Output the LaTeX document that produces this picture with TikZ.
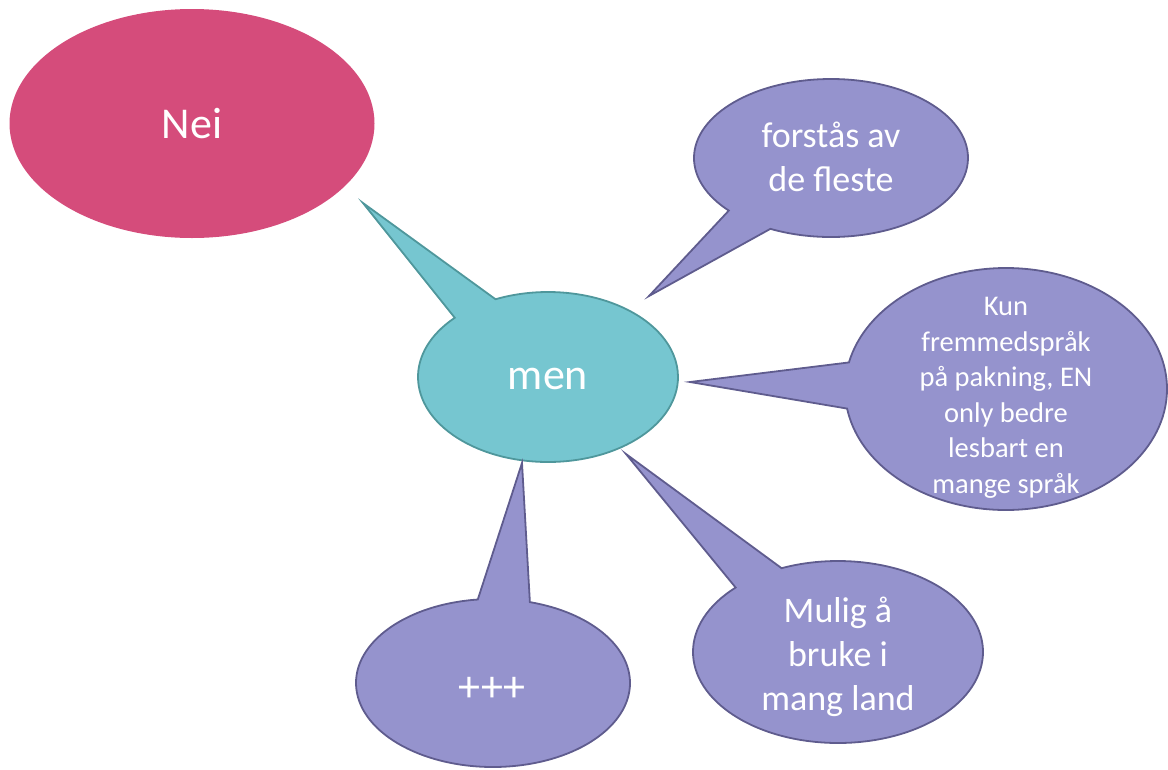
\documentclass[tikz,border=0pt]{standalone}
\usepackage{fontspec}
\setmainfont{Carlito}
\usetikzlibrary{shapes.geometric,shapes.callouts}
\definecolor{neipink}{HTML}{D54C7B}
\definecolor{tealfill}{HTML}{76C6D0}
\definecolor{tealline}{HTML}{4F979C}
\definecolor{purplefill}{HTML}{9593CD}
\definecolor{purpleline}{HTML}{5F5C8E}
\tikzset{
  bubble/.style={ellipse callout, draw=purpleline, fill=purplefill, line width=1.8pt,
    inner sep=0pt, callout pointer arc=22},
  tealbubble/.style={bubble, draw=tealline, fill=tealfill},
  bigtext/.style={text=white, font=\fontsize{44}{54}\selectfont, inner sep=0pt},
  midtext/.style={text=white, font=\fontsize{36}{44}\selectfont, align=center, inner sep=0pt},
  smalltext/.style={text=white, font=\fontsize{28.5}{35.5}\selectfont, align=center, inner sep=0pt}
}
\begin{document}
\begin{tikzpicture}[x=1pt,y=-1pt]
\useasboundingbox (0,0) rectangle (1168,769);
% tips of the callouts
\coordinate (tmen) at (363,203);
\coordinate (tfor) at (649,296);
\coordinate (tkun) at (690,382);
\coordinate (tmul) at (626,454);
\coordinate (tplus) at (522,463);
% shapes
\node[ellipse, fill=neipink, minimum width=365pt, minimum height=229pt, inner sep=0pt] (nei) at (192,123.5) {};
\node[tealbubble, minimum width=260pt, minimum height=170pt, callout absolute pointer={(tmen)}] (men) at (548,377) {};
\node[bubble, minimum width=274pt, minimum height=158pt, callout absolute pointer={(tfor)}] (for) at (831,158) {};
\node[bubble, minimum width=322pt, minimum height=242pt, callout absolute pointer={(tkun)}] (kun) at (1006,389) {};
\node[bubble, minimum width=290pt, minimum height=182pt, callout absolute pointer={(tmul)}] (mul) at (838,652) {};
\node[bubble, minimum width=274pt, minimum height=168pt, callout absolute pointer={(tplus)}] (plus) at (493,683) {};
% texts
\node[bigtext, anchor=base] (neitext) at (192,138) {Nei};
\node[bigtext, anchor=base] (mentext) at (548,389) {men};
\node[midtext] (fortext) at (831,157) {forstås av\\de fleste};
\node[smalltext] (kuntext) at (1006,398) {Kun\\fremmedspråk\\på pakning, EN\\only bedre\\lesbart en\\mange språk};
\node[midtext] (multext) at (838,656.5) {Mulig å\\bruke i\\mang land};
\node[bigtext] (plustext) at (492,689) {+++};
\end{tikzpicture}
\end{document}
